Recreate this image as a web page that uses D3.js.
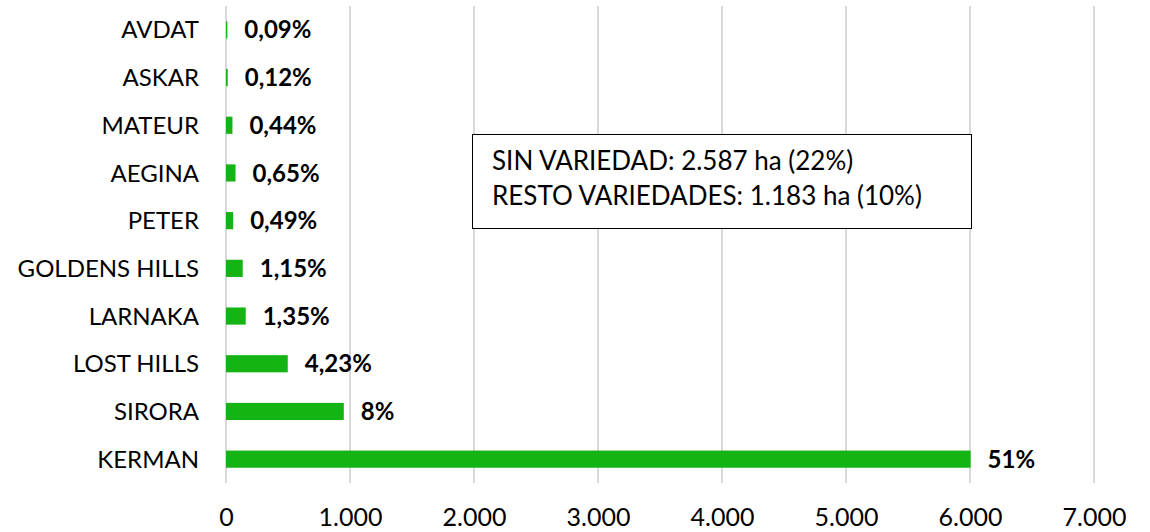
<!DOCTYPE html>
<html>
<head>
<meta charset="utf-8">
<script src="https://cdn.jsdelivr.net/npm/d3@7"></script>
<style>
  html, body { margin: 0; padding: 0; background: #fff; }
  svg { display: block; font-family: Lato, "Open Sans", sans-serif; }
</style>
</head>
<body>
<svg id="chart" width="1150" height="532"></svg>
<script>
const categories = ["AVDAT", "ASKAR", "MATEUR", "AEGINA", "PETER", "GOLDENS HILLS", "LARNAKA", "LOST HILLS", "SIRORA", "KERMAN"];
const values = [11, 14, 52, 77, 58, 135, 159, 498, 950, 6005];
const pctLabels = ["0,09%", "0,12%", "0,44%", "0,65%", "0,49%", "1,15%", "1,35%", "4,23%", "8%", "51%"];
const tickValues = [0, 1000, 2000, 3000, 4000, 5000, 6000, 7000];
const tickLabels = ["0", "1.000", "2.000", "3.000", "4.000", "5.000", "6.000", "7.000"];
const noteLines = ["SIN VARIEDAD: 2.587 ha (22%)", "RESTO VARIEDADES: 1.183 ha (10%)"];

const svg = d3.select("#chart");
const margin = { left: 226, right: 56, top: 6, bottom: 49 };
const W = 1150, H = 532;

const x = d3.scaleLinear().domain([0, 7000]).range([margin.left, W - margin.right]);
const y = d3.scaleBand().domain(categories).range([margin.top, H - margin.bottom]).paddingInner(0.64).paddingOuter(0.32);

// gridlines
svg.append("g").selectAll("line").data(tickValues).join("line")
  .attr("x1", d => x(d)).attr("x2", d => x(d))
  .attr("y1", margin.top).attr("y2", H - margin.bottom)
  .attr("stroke", "#d9d9d9").attr("stroke-width", 2);

// x axis labels
const xAxis = d3.axisBottom(x).tickValues(tickValues).tickFormat((d, i) => tickLabels[i]).tickSize(0).tickPadding(0);
const gx = svg.append("g").attr("transform", `translate(0, ${H - margin.bottom})`).call(xAxis);
gx.select(".domain").remove();
gx.selectAll("text").attr("font-size", 25).attr("fill", "#000").attr("dy", null).attr("y", 43)
  .attr("font-family", "Lato, sans-serif");

// y axis labels
const yAxis = d3.axisLeft(y).tickSize(0).tickPadding(0);
const gy = svg.append("g").attr("transform", `translate(${margin.left - 27}, 0)`).call(yAxis);
gy.select(".domain").remove();
gy.selectAll("text").attr("font-size", 24).attr("fill", "#000").attr("dy", "0.36em")
  .attr("font-family", "Lato, sans-serif");

// bars
svg.append("g").selectAll("rect").data(categories).join("rect")
  .attr("x", x(0))
  .attr("y", d => y(d))
  .attr("width", (d, i) => x(values[i]) - x(0))
  .attr("height", y.bandwidth())
  .attr("fill", "#13b413");

// value labels
svg.append("g").selectAll("text").data(categories).join("text")
  .attr("x", (d, i) => x(values[i]) + 17)
  .attr("y", d => y(d) + y.bandwidth() / 2)
  .attr("dy", "0.36em")
  .attr("font-size", 24)
  .attr("font-weight", "bold")
  .attr("fill", "#000")
  .text((d, i) => pctLabels[i]);

// note box
const box = svg.append("g");
box.append("rect").attr("x", 472.5).attr("y", 134.5).attr("width", 499).attr("height", 94)
  .attr("fill", "#fff").attr("stroke", "#000").attr("stroke-width", 1);
box.selectAll("text").data(noteLines).join("text")
  .attr("x", 492).attr("y", (d, i) => 170 + i * 35)
  .attr("font-size", 26).attr("fill", "#000")
  .text(d => d);
</script>
</body>
</html>
